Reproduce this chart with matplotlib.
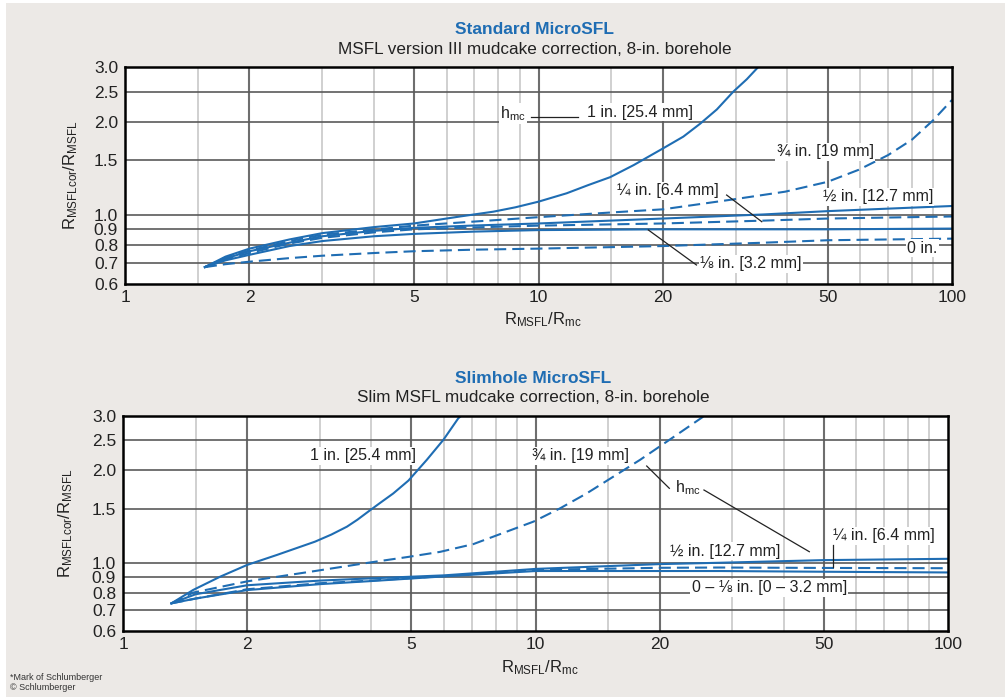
import matplotlib

matplotlib.use("Agg")
import matplotlib.pyplot as plt
from matplotlib.patches import Rectangle

plt.rcParams["font.family"] = ["Liberation Sans", "DejaVu Sans"]
plt.rcParams["mathtext.default"] = "regular"

BLUE = "#1f6db3"
BG = "#ECE9E6"

# ---- Standard MicroSFL (top) ----
std_1in_x = [1.56, 1.75, 2, 2.5, 3, 4, 5, 6.46, 7.78, 8.8, 10, 11.7, 13.2, 14.9, 17, 20, 22.4, 24.6, 27, 29.6, 31.9, 34]
std_1in_y = [0.68, 0.735, 0.78, 0.835, 0.875, 0.915, 0.94, 0.99, 1.026, 1.06, 1.105, 1.176, 1.25, 1.325, 1.45, 1.64, 1.79, 1.97, 2.19, 2.5, 2.74, 3.0]
std_34_x = [1.56, 1.75, 2, 2.5, 3, 5, 8, 10, 15, 20, 29.6, 39.5, 50, 59.5, 70, 80, 90, 100]
std_34_y = [0.68, 0.73, 0.77, 0.825, 0.865, 0.925, 0.965, 0.985, 1.02, 1.044, 1.124, 1.19, 1.28, 1.40, 1.56, 1.75, 2.02, 2.35]
std_12_x = [1.56, 1.75, 2, 2.5, 3, 4, 5, 7, 10, 20, 35, 50, 100]
std_12_y = [0.68, 0.725, 0.765, 0.815, 0.855, 0.89, 0.91, 0.926, 0.94, 0.975, 1.005, 1.03, 1.07]
std_14_x = [1.56, 1.75, 2, 2.5, 3, 4, 5, 7, 10, 20, 35, 50, 100]
std_14_y = [0.68, 0.72, 0.755, 0.81, 0.845, 0.88, 0.90, 0.913, 0.925, 0.94, 0.96, 0.975, 0.99]
std_18_x = [1.56, 1.75, 2, 2.5, 3, 4, 5, 7, 10, 20, 50, 100]
std_18_y = [0.68, 0.715, 0.745, 0.795, 0.825, 0.855, 0.87, 0.885, 0.895, 0.90, 0.90, 0.905]
std_0_x = [1.56, 1.75, 2, 2.5, 3, 4, 5, 7, 10, 20, 35, 50, 100]
std_0_y = [0.68, 0.695, 0.708, 0.727, 0.74, 0.755, 0.765, 0.774, 0.78, 0.795, 0.815, 0.83, 0.84]

# ---- Slimhole MicroSFL (bottom) ----
slim_1in_x = [1.31, 1.48, 1.72, 2.0, 2.36, 2.92, 3.2, 3.49, 3.7, 3.93, 4.2, 4.52, 4.92, 5.45, 5.98, 6.5, 6.6]
slim_1in_y = [0.738, 0.816, 0.901, 0.984, 1.06, 1.171, 1.235, 1.31, 1.38, 1.466, 1.565, 1.68, 1.85, 2.16, 2.51, 2.95, 3.0]
slim_34_x = [1.31, 1.48, 2.0, 2.92, 3.93, 4.92, 5.87, 7.07, 8.51, 9.88, 11.47, 13.3, 15.44, 17.92, 20.8, 25.5]
slim_34_y = [0.738, 0.80, 0.87, 0.94, 1.0, 1.045, 1.085, 1.15, 1.262, 1.36, 1.503, 1.68, 1.905, 2.16, 2.475, 2.985]
slim_12_x = [1.31, 1.5, 2, 3, 4, 6, 10, 20, 28, 50, 100]
slim_12_y = [0.738, 0.79, 0.845, 0.875, 0.89, 0.91, 0.955, 0.99, 1.0, 1.02, 1.03]
slim_14_x = [1.31, 1.5, 2, 3, 4, 6, 10, 20, 28, 50, 100]
slim_14_y = [0.738, 0.765, 0.82, 0.858, 0.875, 0.905, 0.948, 0.963, 0.965, 0.962, 0.96]
slim_018_x = [1.31, 1.5, 2, 3, 4, 6, 10, 20, 28, 50, 100]
slim_018_y = [0.738, 0.765, 0.815, 0.852, 0.872, 0.903, 0.94, 0.94, 0.94, 0.935, 0.93]

x_ticks = [1, 2, 5, 10, 20, 50, 100]
y_ticks = [0.6, 0.7, 0.8, 0.9, 1.0, 1.5, 2.0, 2.5, 3.0]
x_grid_major = [2, 5, 10, 20, 50]
x_grid_minor = [1.5, 3, 4, 6, 7, 8, 9, 15, 30, 40, 60, 70, 80, 90]

LW = 1.5
DASH = (0, (5.8, 2.9))
BOX = dict(facecolor="white", edgecolor="none", pad=1.0)
FS = 11.5


def setup_axes(ax, label_x, xlabel_y):
    ax.set_xscale("log")
    ax.set_yscale("log")
    ax.set_xlim(1, 100)
    ax.set_ylim(0.6, 3.0)
    ax.set_facecolor("white")
    for v in x_grid_minor:
        ax.axvline(v, color="#c8c8c8", lw=1.2, zorder=1)
    for v in x_grid_major:
        ax.axvline(v, color="#6e6e6e", lw=1.5, zorder=1)
    for v in y_ticks[1:-1]:
        ax.axhline(v, color="#5a5a5a", lw=1.2, zorder=1)
    ax.set_xticks(x_ticks)
    ax.set_xticklabels([str(v) for v in x_ticks])
    ax.set_yticks(y_ticks)
    ax.set_yticklabels([f"{v:.1f}" for v in y_ticks])
    ax.minorticks_off()
    ax.tick_params(length=0, labelsize=12.5, colors="#222222")
    ax.tick_params(axis="y", pad=5)
    ax.tick_params(axis="x", pad=4)
    for s in ax.spines.values():
        s.set_linewidth(1.8)
        s.set_color("black")
        s.set_zorder(5)
    ax.set_ylabel(r"R$_{MSFLcor}$/R$_{MSFL}$", fontsize=12, color="#222222")
    ax.yaxis.set_label_coords(label_x, 0.5)
    ax.set_xlabel(r"R$_{MSFL}$/R$_{mc}$", fontsize=12, color="#222222")
    ax.xaxis.set_label_coords(0.505, xlabel_y)


def note(ax, x, y, s):
    ax.text(x, y, s, transform=ax.transAxes, fontsize=FS, va="center",
            color="#222222", bbox=BOX, zorder=4)


def leader(ax, xs, ys):
    ax.plot(xs, ys, transform=ax.transAxes, color="#222222", lw=0.9, zorder=4)


fig = plt.figure(figsize=(10.07, 6.97), dpi=100)
fig.patch.set_facecolor("white")
fig.add_artist(Rectangle((6 / 1007, 0), 999 / 1007, 1 - 3 / 697,
                         transform=fig.transFigure, facecolor=BG, edgecolor="none", zorder=0))

# ---------- top chart ----------
ax1 = fig.add_axes([125 / 1007, 1 - 284 / 697, 827 / 1007, 217 / 697])
setup_axes(ax1, -0.055, -0.12)
ax1.plot(std_1in_x, std_1in_y, color=BLUE, lw=LW, zorder=3)
ax1.plot(std_34_x, std_34_y, color=BLUE, lw=LW, ls=DASH, zorder=3)
ax1.plot(std_12_x, std_12_y, color=BLUE, lw=LW, zorder=3)
ax1.plot(std_14_x, std_14_y, color=BLUE, lw=LW, ls=DASH, zorder=3)
ax1.plot(std_18_x, std_18_y, color=BLUE, lw=LW, zorder=3)
ax1.plot(std_0_x, std_0_y, color=BLUE, lw=LW, ls=DASH, zorder=3)

note(ax1, 0.4534, 0.785, r"h$_{mc}$")
leader(ax1, [0.491, 0.548], [0.7696, 0.7696])
note(ax1, 0.5586, 0.7926, "1 in. [25.4 mm]")
note(ax1, 0.788, 0.610, "¾ in. [19 mm]")
note(ax1, 0.5945, 0.430, "¼ in. [6.4 mm]")
leader(ax1, [0.7275, 0.770], [0.410, 0.287])
note(ax1, 0.8436, 0.4025, "½ in. [12.7 mm]")
note(ax1, 0.946, 0.1645, "0 in.")
note(ax1, 0.6953, 0.0922, "⅛ in. [3.2 mm]")
leader(ax1, [0.691, 0.6328], [0.0876, 0.249])

# ---------- bottom chart ----------
ax2 = fig.add_axes([123 / 1007, 1 - 631 / 697, 825 / 1007, 215 / 697])
setup_axes(ax2, -0.058, -0.125)
ax2.plot(slim_1in_x, slim_1in_y, color=BLUE, lw=LW, zorder=3)
ax2.plot(slim_34_x, slim_34_y, color=BLUE, lw=LW, ls=DASH, zorder=3)
ax2.plot(slim_12_x, slim_12_y, color=BLUE, lw=LW, zorder=3)
ax2.plot(slim_14_x, slim_14_y, color=BLUE, lw=LW, ls=DASH, zorder=3)
ax2.plot(slim_018_x, slim_018_y, color=BLUE, lw=LW, zorder=3)

note(ax2, 0.2267, 0.8153, "1 in. [25.4 mm]")
note(ax2, 0.4954, 0.8153, "¾ in. [19 mm]")
note(ax2, 0.669, 0.668, r"h$_{mc}$")
leader(ax2, [0.6348, 0.6622], [0.7674, 0.6637])
leader(ax2, [0.7042, 0.8319], [0.6558, 0.3688])
note(ax2, 0.663, 0.372, "½ in. [12.7 mm]")
note(ax2, 0.861, 0.442, "¼ in. [6.4 mm]")
leader(ax2, [0.861, 0.861], [0.40, 0.299])
note(ax2, 0.6893, 0.2014, "0 – ⅛ in. [0 – 3.2 mm]")

# ---------- titles ----------
fig.text(534.5 / 1007, 1 - 30 / 697, "Standard MicroSFL", ha="center", va="center",
         fontsize=12.5, fontweight="bold", color=BLUE)
fig.text(534.5 / 1007, 1 - 49 / 697, "MSFL version III mudcake correction, 8-in. borehole",
         ha="center", va="center", fontsize=12.3, color="#222222")
fig.text(533.5 / 1007, 1 - 379 / 697, "Slimhole MicroSFL", ha="center", va="center",
         fontsize=12.5, fontweight="bold", color=BLUE)
fig.text(533.5 / 1007, 1 - 397.5 / 697, "Slim MSFL mudcake correction, 8-in. borehole",
         ha="center", va="center", fontsize=12.3, color="#222222")

fig.text(10 / 1007, 1 - 677 / 697, "*Mark of Schlumberger", fontsize=6.5, va="center", color="#333333")
fig.text(10 / 1007, 1 - 687 / 697, "© Schlumberger", fontsize=6.5, va="center", color="#333333")

fig.savefig("out.png", dpi=100, facecolor=fig.get_facecolor())
